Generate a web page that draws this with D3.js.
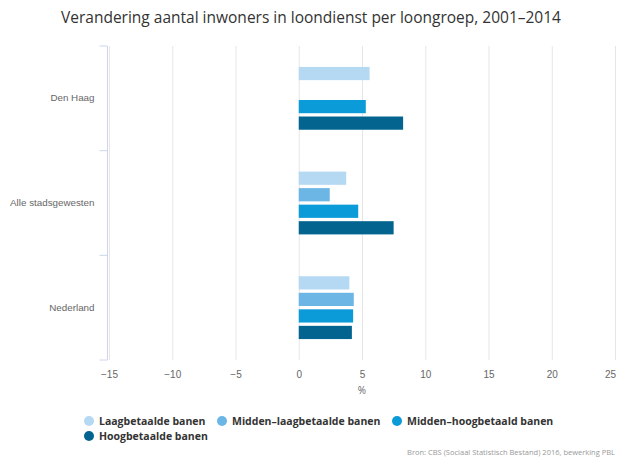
<!DOCTYPE html>
<html>
<head>
<meta charset="utf-8">
<script src="https://cdn.jsdelivr.net/npm/d3@7"></script>
<style>
  body { margin: 0; background: #fff; }
  svg { font-family: "Open Sans", "DejaVu Sans", sans-serif; }
  .grid line { stroke: #e6e6e6; }
  .grid .domain { display: none; }
  .x-axis .domain, .x-axis line { display: none; }
  .x-axis text { fill: #666; font-size: 10px; }
  .y-axis text { fill: #666; font-size: 9.8px; }
</style>
</head>
<body>
<div id="chart"></div>
<script>
// regions and wage groups
const regions = ["Den Haag", "Alle stadsgewesten", "Nederland"];
const groups = ["Laagbetaalde banen", "Midden-laagbetaalde banen", "Midden-hoogbetaald banen", "Hoogbetaalde banen"];
const colors = ["#b5d8f3", "#6cb6e6", "#0b9bd8", "#03658f"];

// change in %, per group (null = no value)
const laag = [5.6, 3.75, 4.0];
const middenLaag = [null, 2.45, 4.35];
const middenHoog = [5.3, 4.7, 4.3];
const hoog = [8.25, 7.5, 4.2];

const xTicks = [-15, -10, -5, 0, 5, 10, 15, 20, 25];

const width = 617, height = 457;
const margin = {top: 46, right: 2, bottom: 97, left: 109};

const svg = d3.select("#chart").append("svg")
  .attr("width", width)
  .attr("height", height);

const x = d3.scaleLinear()
  .domain([-15, 25])
  .range([margin.left, width - margin.right]);

const y = d3.scaleBand()
  .domain(regions)
  .range([margin.top, height - margin.bottom]);

const yInner = d3.scaleBand()
  .domain(groups)
  .range([y.bandwidth() * 0.2, y.bandwidth() * 0.8])
  .paddingInner(0.2);

// gridlines
svg.append("g")
  .attr("class", "grid")
  .attr("transform", `translate(0, ${height - margin.bottom})`)
  .call(d3.axisBottom(x).tickValues(xTicks).tickSize(-(height - margin.bottom - margin.top)).tickFormat(""));

// x axis labels
const xAxis = svg.append("g")
  .attr("class", "x-axis")
  .attr("transform", `translate(0, ${height - margin.bottom + 8})`)
  .call(d3.axisBottom(x).tickValues(xTicks).tickSize(0).tickFormat(d => d < 0 ? "\u2212" + Math.abs(d) : d));
xAxis.selectAll(".tick text").filter(d => d === 25).attr("dx", -5);

svg.append("text")
  .attr("x", x(5))
  .attr("y", height - margin.bottom + 34)
  .attr("text-anchor", "middle")
  .attr("fill", "#666")
  .attr("font-size", 10)
  .text("%");

// y axis with ticks on band borders
const axisX = margin.left - 1.5;
const yAxis = svg.append("g")
  .attr("class", "y-axis")
  .attr("transform", `translate(${axisX}, 0)`)
  .call(d3.axisLeft(y).tickSize(0).tickPadding(13));
yAxis.select(".domain").remove();
yAxis.append("line")
  .attr("x1", 0).attr("x2", 0)
  .attr("y1", y.range()[0]).attr("y2", y.range()[1])
  .attr("stroke", "#ccd6eb");
const borders = regions.map(r => y(r)).concat([y.range()[1]]);
yAxis.selectAll(".border-tick")
  .data(borders)
  .enter().append("line")
  .attr("class", "border-tick")
  .attr("x1", -8).attr("x2", 0)
  .attr("y1", d => d).attr("y2", d => d)
  .attr("stroke", "#ccd6eb");

// bars
const series = [laag, middenLaag, middenHoog, hoog];
groups.forEach((g, gi) => {
  const rows = regions.map((r, ri) => ({region: r, value: series[gi][ri]}))
    .filter(d => d.value !== null);
  svg.selectAll(".bar-" + gi)
    .data(rows)
    .enter().append("rect")
    .attr("class", "bar bar-" + gi)
    .attr("x", d => x(Math.min(0, d.value)))
    .attr("y", d => y(d.region) + yInner(g))
    .attr("width", d => Math.abs(x(d.value) - x(0)))
    .attr("height", yInner.bandwidth())
    .attr("fill", colors[gi]);
});

// title
svg.append("text")
  .attr("x", 311)
  .attr("y", 23)
  .attr("text-anchor", "middle")
  .attr("fill", "#333")
  .attr("font-size", 15.5)
  .text("Verandering aantal inwoners in loondienst per loongroep, 2001\u20132014");

// legend
const legendPos = [[89, 421], [222, 421], [397, 421], [89, 436]];
const legend = svg.append("g").attr("class", "legend");
groups.forEach((g, i) => {
  const item = legend.append("g")
    .attr("transform", `translate(${legendPos[i][0]}, ${legendPos[i][1]})`);
  item.append("circle")
    .attr("r", 5)
    .attr("fill", colors[i]);
  item.append("text")
    .attr("x", 10)
    .attr("dy", "0.35em")
    .attr("font-size", 10.5)
    .attr("font-weight", "bold")
    .attr("fill", "#333")
    .text(g.replace("-", "\u2013"));
});

// source
svg.append("text")
  .attr("x", width - 2)
  .attr("y", 455)
  .attr("text-anchor", "end")
  .attr("fill", "#999")
  .attr("font-size", 7.5)
  .text("Bron: CBS (Sociaal Statistisch Bestand) 2016, bewerking PBL");
</script>
</body>
</html>
